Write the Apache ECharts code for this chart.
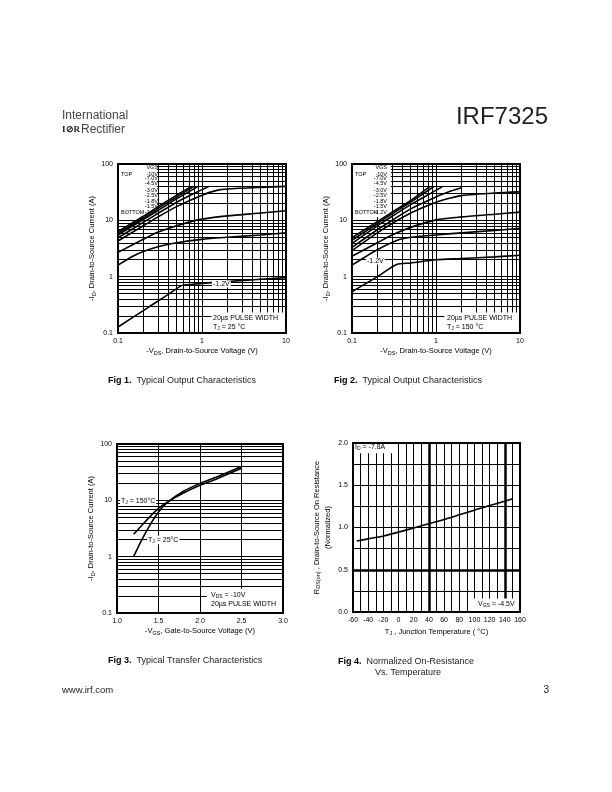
<!DOCTYPE html>
<html>
<head>
<meta charset="utf-8">
<script src="https://cdn.jsdelivr.net/npm/echarts@6/dist/echarts.min.js"></script>
<style>
  html, body { margin: 0; padding: 0; background: #fff; }
  #page { width: 612px; height: 792px; }
</style>
</head>
<body>
<div id="page"></div>
<script>
/* Fig 1: output characteristics, TJ = 25 C  (VGS = -10V ... -1.2V) */
var fig1Vds = [
  [0.1, 0.2, 0.3, 0.5, 0.75],
  [0.1, 0.2, 0.3, 0.5, 0.8],
  [0.1, 0.2, 0.3, 0.5, 0.9],
  [0.1, 0.2, 0.3, 0.5, 0.8, 1.2],
  [0.1, 0.2, 0.3, 0.5, 1, 1.5, 2, 5, 10],
  [0.1, 0.2, 0.3, 0.5, 0.7, 1, 2, 5, 10],
  [0.1, 0.15, 0.2, 0.3, 0.5, 1, 2, 5, 10],
  [0.1, 0.2, 0.3, 0.4, 0.58, 0.7, 1, 2, 5, 10]
];
var fig1Id = [
  [6.3, 11.8, 17.5, 28, 40],
  [5.9, 11, 16.3, 26, 40],
  [5.5, 10.3, 15, 24, 40],
  [4.9, 9.2, 13.3, 21, 30, 40],
  [4.3, 8, 11.5, 17.5, 28, 34, 36, 38.5, 40],
  [2.7, 4.6, 6.2, 8, 9.3, 10.5, 12, 13.5, 14.8],
  [1.6, 2.3, 2.8, 3.4, 4, 4.6, 5, 5.5, 6],
  [0.128, 0.25, 0.37, 0.49, 0.7, 0.72, 0.76, 0.82, 0.9, 0.96]
];

/* Fig 2: output characteristics, TJ = 150 C */
var fig2Vds = [
  [0.1, 0.2, 0.3, 0.5, 0.85],
  [0.1, 0.2, 0.3, 0.5, 0.95],
  [0.1, 0.2, 0.3, 0.5, 1, 1.2],
  [0.1, 0.2, 0.3, 0.5, 1, 1.5, 2],
  [0.1, 0.2, 0.3, 0.5, 1, 1.5, 2, 5, 10],
  [0.1, 0.2, 0.3, 0.5, 1, 2, 5, 10],
  [0.1, 0.2, 0.34, 0.5, 1, 2, 5, 10],
  [0.1, 0.2, 0.34, 0.5, 1, 2, 5, 10]
];
var fig2Id = [
  [4.9, 9.5, 14, 22.5, 40],
  [4.4, 8.8, 13, 21, 40],
  [3.9, 8, 11.8, 19, 34, 40],
  [3.3, 6.8, 10, 16, 26, 33, 38],
  [2.9, 6, 8.8, 13.5, 21, 25, 27.5, 30.5, 32],
  [2.3, 4, 5.5, 7.5, 10.2, 11.5, 12.8, 14],
  [1.6, 3, 4.4, 5, 5.5, 6, 6.6, 7.2],
  [0.54, 1, 1.65, 1.75, 2, 2.1, 2.25, 2.4]
];
var vgsSteps = ['-10V', '-7.0V', '-4.5V', '-3.0V', '-2.5V', '-1.8V', '-1.5V', '-1.2V'];

/* Fig 3: transfer characteristics */
var fig3Vgs = [1.2, 1.3, 1.4, 1.5, 1.6, 1.8, 2.0, 2.2, 2.5];
var fig3Id25 = [1.0, 2.0, 3.7, 6.2, 9, 14.5, 20, 26, 40];
var fig3Id150 = [2.5, 3.6, 5.2, 7.2, 9.2, 13.5, 18.5, 24, 37];

/* Fig 4: normalized on-resistance vs temperature */
var fig4Tj = [-55, -40, -20, 0, 20, 40, 60, 80, 100, 120, 140, 150];
var fig4Rds = [0.84, 0.865, 0.9, 0.945, 0.995, 1.045, 1.095, 1.15, 1.205, 1.26, 1.31, 1.34];

var FONT = '"Liberation Sans", Arial, sans-serif';

/* grid line positions */
function logLines(fromExp, toExp) {
  var out = [];
  for (var e = fromExp; e < toExp; e++) {
    for (var m = 1; m < 10; m++) {
      if (e === fromExp && m === 1) continue;
      out.push(+(m * Math.pow(10, e)).toPrecision(3));
    }
  }
  return out;
}

function pairs(xs, ys) {
  var out = [];
  for (var i in xs) out.push([xs[i], ys[i]]);
  return out;
}

var subRich = {
  s: { fontSize: 5.5, fontFamily: FONT, padding: [4, 0, 0, 0] }
};

function logAxis(gi, min, max, nameText, gap, rotate) {
  return {
    type: 'log', logBase: 10, gridIndex: gi, min: min, max: max,
    axisLine: { show: false }, axisTick: { show: false }, splitLine: { show: false },
    axisLabel: {
      fontSize: 7, color: '#000', fontFamily: FONT, margin: 5,
      formatter: function (v) { return v < 1 ? v.toFixed(1) : String(Math.round(v)); }
    },
    name: nameText, nameLocation: 'middle', nameGap: gap, nameRotate: rotate,
    nameTextStyle: { fontSize: 7.5, color: '#000', fontFamily: FONT, rich: subRich }
  };
}

function valAxis(gi, min, max, step, digits, nameText, gap, rotate) {
  return {
    type: 'value', gridIndex: gi, min: min, max: max, interval: step,
    axisLine: { show: false }, axisTick: { show: false }, splitLine: { show: false },
    axisLabel: {
      fontSize: 7, color: '#000', fontFamily: FONT, margin: 5,
      formatter: function (v) { return v.toFixed(digits); }
    },
    name: nameText, nameLocation: 'middle', nameGap: gap, nameRotate: rotate,
    nameTextStyle: { fontSize: 7.5, color: '#000', fontFamily: FONT, rich: subRich, lineHeight: 11 }
  };
}

/* grid lines for one chart */
function gridLines(gi, xs, ys, thick) {
  var lines = [];
  xs.forEach(function (v) {
    lines.push({ xAxis: v, lineStyle: { width: thick.x.indexOf(v) >= 0 ? 2.5 : 1 } });
  });
  ys.forEach(function (v) {
    lines.push({ yAxis: v, lineStyle: { width: thick.y.indexOf(v) >= 0 ? 2.5 : 1 } });
  });
  return {
    type: 'line', xAxisIndex: gi, yAxisIndex: gi, data: [], silent: true, animation: false,
    markLine: {
      silent: true, animation: false, z: 1, symbol: ['none', 'none'],
      label: { show: false },
      lineStyle: { color: '#000', type: 'solid', width: 1 },
      emphasis: { disabled: true },
      data: lines
    }
  };
}

function curve(gi, xs, ys, name) {
  return {
    name: name, type: 'line', xAxisIndex: gi, yAxisIndex: gi,
    data: pairs(xs, ys), symbol: 'none', smooth: 0.25, z: 3,
    silent: true, animation: false,
    lineStyle: { color: '#000', width: 1.6 }
  };
}

function txt(x, y, text, size, o) {
  o = o || {};
  var al = o.align || 'left';
  return {
    type: 'text', x: x, y: y, z: 20, silent: true,
    style: {
      text: text, fontSize: size, fontFamily: o.family || FONT,
      fontWeight: o.weight || 'normal', fill: o.color || '#000',
      align: al, textAlign: al, verticalAlign: 'middle', textVerticalAlign: 'middle',
      backgroundColor: o.bg, padding: o.bg ? [0, 1] : 0,
      rich: {
        s: { fontSize: size * 0.72, fontFamily: FONT, fill: o.color || '#000', padding: [size * 0.5, 0, 0, 0] },
        b: { fontSize: size, fontFamily: FONT, fontWeight: 'bold', fill: '#000' }
      }
    }
  };
}

var myChart = echarts.init(document.getElementById('page'), null, { renderer: 'canvas' });

var gridBase = { show: true, borderColor: '#000', borderWidth: 2, backgroundColor: 'transparent', z: 10 };
var grids = [
  Object.assign({ left: 118, top: 164, width: 168, height: 169 }, gridBase),
  Object.assign({ left: 352, top: 164, width: 168, height: 169 }, gridBase),
  Object.assign({ left: 117, top: 444, width: 166, height: 169 }, gridBase),
  Object.assign({ left: 353, top: 443, width: 167, height: 169 }, gridBase)
];

var vdsName = '-V{s|DS}, Drain-to-Source Voltage (V)';
var idName = '-I{s|D}, Drain-to-Source Current (A)';

var xAxes = [
  logAxis(0, 0.1, 10, vdsName, 13, 0),
  logAxis(1, 0.1, 10, vdsName, 13, 0),
  valAxis(2, 1, 3, 0.5, 1, '-V{s|GS}, Gate-to-Source Voltage (V)', 12, 0),
  valAxis(3, -60, 160, 20, 0, 'T{s|J} , Junction Temperature ( \u00B0C)', 14, 0)
];
var yAxes = [
  logAxis(0, 0.1, 100, idName, 18, 90),
  logAxis(1, 0.1, 100, idName, 18, 90),
  logAxis(2, 0.1, 100, idName, 17, 90),
  valAxis(3, 0, 2, 0.5, 1, 'R{s|DS(on)} , Drain-to-Source On Resistance\n(Normalized)', 20, 90)
];

var series = [
  gridLines(0, logLines(-1, 1), logLines(-1, 2), { x: [], y: [] }),
  gridLines(1, logLines(-1, 1), logLines(-1, 2), { x: [], y: [] }),
  gridLines(2, [1.5, 2.0, 2.5], logLines(-1, 2), { x: [], y: [] }),
  gridLines(3, [-50, -40, -30, -20, -10, 0, 10, 20, 30, 40, 50, 60, 70, 80, 90, 100, 110, 120, 130, 140, 150],
    [0.25, 0.5, 0.75, 1.0, 1.25, 1.5, 1.75], { x: [40, 140], y: [0.5] })
];
for (var i in vgsSteps) {
  series.push(curve(0, fig1Vds[i], fig1Id[i], vgsSteps[i]));
  series.push(curve(1, fig2Vds[i], fig2Id[i], vgsSteps[i]));
}
series.push(curve(2, fig3Vgs, fig3Id25, 'TJ = 25'));
series.push(curve(2, fig3Vgs, fig3Id150, 'TJ = 150'));
series.push(curve(3, fig4Tj, fig4Rds, 'RDS(on)'));

/* white boxes behind the notes: [grid, x0, y0, x1, y1] in axis units */
var noteBoxes = [
  [0, 0.1, 11.5, 0.29, 100], [0, 1.3, 0.1, 10, 0.23],
  [1, 0.1, 11.5, 0.29, 100], [1, 1.26, 0.1, 10, 0.23],
  [2, 2.08, 0.1, 3, 0.27],
  [3, -60, 1.88, -8, 2], [3, 98, 0, 160, 0.16]
];

/* VGS legend blocks */
var legendY = [174, 178.5, 183.5, 190, 195, 201.5, 206.5, 212];
var graphics = [];
[[158, 121], [387, 355]].forEach(function (p) {
  graphics.push(txt(p[0], 167, 'VGS', 5.5, { align: 'right' }));
  graphics.push(txt(p[1], legendY[0], 'TOP', 5.5));
  graphics.push(txt(p[1], legendY[7], 'BOTTOM', 5.5));
  for (var k in vgsSteps) graphics.push(txt(p[0], legendY[k], vgsSteps[k], 5.5, { align: 'right' }));
});

graphics = graphics.concat([
  /* header */
  txt(62, 116, 'International', 12, { color: '#444' }),
  txt(62, 130, 'I\u2298R', 9, { family: '"Liberation Serif", serif', weight: 'bold', color: '#222' }),
  txt(81, 130, 'Rectifier', 12, { color: '#444' }),
  txt(548, 117, 'IRF7325', 24, { align: 'right', color: '#222' }),

  /* in-plot notes */
  txt(212, 284, '-1.2V', 7, { bg: '#fff' }),
  txt(366, 261, '-1.2V', 7, { bg: '#fff' }),
  txt(213, 318, '20\u00B5s PULSE WIDTH', 7),
  txt(213, 327, 'T{s|J} = 25 \u00B0C', 7),
  txt(447, 318, '20\u00B5s PULSE WIDTH', 7),
  txt(447, 327, 'T{s|J} = 150 \u00B0C', 7),
  txt(120, 501, 'T{s|J} = 150\u00B0C', 7, { bg: '#fff' }),
  txt(147, 540, 'T{s|J} = 25\u00B0C', 7, { bg: '#fff' }),
  txt(211, 595, 'V{s|DS} = -10V', 7),
  txt(211, 604, '20\u00B5s PULSE WIDTH', 7),
  txt(355, 447, 'I{s|D} = -7.8A', 7),
  txt(478, 604, 'V{s|GS} = -4.5V', 7),

  /* captions */
  txt(108, 381, '{b|Fig 1.}  Typical Output Characteristics', 9, { color: '#222' }),
  txt(334, 381, '{b|Fig 2.}  Typical Output Characteristics', 9, { color: '#222' }),
  txt(108, 661, '{b|Fig 3.}  Typical Transfer Characteristics', 9, { color: '#222' }),
  txt(338, 662, '{b|Fig 4.}  Normalized On-Resistance', 9, { color: '#222' }),
  txt(375, 673, 'Vs. Temperature', 9, { color: '#222' }),

  /* footer */
  txt(62, 690, 'www.irf.com', 9.5, { color: '#222' }),
  txt(549, 690, '3', 10, { align: 'right', color: '#222' })
]);

var option = {
  animation: false,
  backgroundColor: '#fff',
  grid: grids,
  xAxis: xAxes,
  yAxis: yAxes,
  series: series
};
myChart.setOption(option);

/* note boxes are placed through the axes once they exist */
var rects = noteBoxes.map(function (b) {
  var p0 = myChart.convertToPixel({ gridIndex: b[0] }, [b[1], b[2]]);
  var p1 = myChart.convertToPixel({ gridIndex: b[0] }, [b[3], b[4]]);
  return {
    type: 'rect', z: 2, silent: true,
    shape: {
      x: Math.min(p0[0], p1[0]), y: Math.min(p0[1], p1[1]),
      width: Math.abs(p1[0] - p0[0]), height: Math.abs(p1[1] - p0[1])
    },
    style: { fill: '#fff' }
  };
});
myChart.setOption({ graphic: { elements: rects.concat(graphics) } });
</script>
</body>
</html>
